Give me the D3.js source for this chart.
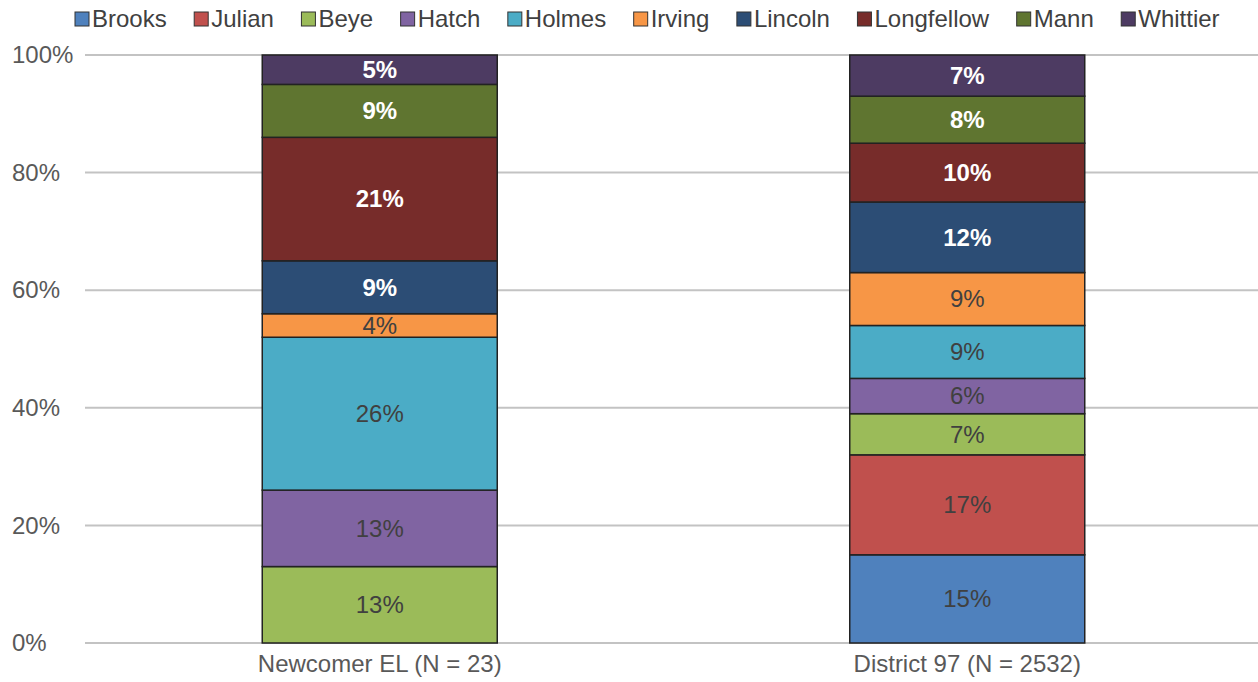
<!DOCTYPE html>
<html>
<head>
<meta charset="utf-8">
<script src="https://cdn.jsdelivr.net/npm/d3@7"></script>
<style>
  body { margin: 0; background: #fff; }
  svg text { font-family: 'Liberation Sans', Arial, sans-serif; }
</style>
</head>
<body>
<div class="chart"></div>
<script>
const width = 1258;
const height = 682;

const groups = ['Newcomer EL (N = 23)', 'District 97 (N = 2532)'];
const schools = ['Brooks', 'Julian', 'Beye', 'Hatch', 'Holmes', 'Irving', 'Lincoln', 'Longfellow', 'Mann', 'Whittier'];
const newcomer = [0, 0, 13, 13, 26, 4, 9, 21, 9, 5];
const district = [15, 17, 7, 6, 9, 9, 12, 10, 8, 7];
const yTicks = [0, 20, 40, 60, 80, 100];

const colors = ['#4F81BD', '#C0504D', '#9BBB59', '#8064A2', '#4BACC6', '#F79646', '#2C4D75', '#772C2A', '#5F7530', '#4D3B62'];
// darker fills get white bold labels
const darkSchools = ['Lincoln', 'Longfellow', 'Mann', 'Whittier'];

const margin = {top: 55, right: 0, bottom: 39, left: 85};
const fontSize = '24px';

let svg = d3.select('.chart').append('svg')
  .attr('width', width)
  .attr('height', height);

let data = groups.map((g, i) => {
  let row = {group: g};
  let vals = i === 0 ? newcomer : district;
  schools.forEach((s, j) => row[s] = vals[j]);
  return row;
});

let xScale = d3.scaleBand()
  .domain(groups)
  .range([86, 1261])
  .paddingInner(0.6)
  .paddingOuter(0.3);

let yScale = d3.scaleLinear()
  .domain([0, 100])
  .range([height - margin.bottom, margin.top]);

// gridlines
svg.append('g')
  .selectAll('line')
  .data(yTicks)
  .enter()
  .append('line')
  .attr('x1', margin.left)
  .attr('x2', width)
  .attr('y1', d => yScale(d))
  .attr('y2', d => yScale(d))
  .attr('stroke', '#c3c3c3')
  .attr('stroke-width', 2);

// y axis labels, left aligned like the original
let yAxis = svg.append('g')
  .attr('transform', `translate(${margin.left},0)`)
  .call(d3.axisLeft(yScale).tickValues(yTicks).tickFormat(d => d + '%').tickSize(0));
yAxis.select('.domain').remove();
yAxis.selectAll('text')
  .attr('x', 12 - margin.left)
  .attr('text-anchor', 'start')
  .attr('fill', '#595959')
  .style('font-size', fontSize);

// x axis labels
let xAxis = svg.append('g')
  .attr('transform', `translate(0,${height - margin.bottom})`)
  .call(d3.axisBottom(xScale).tickSize(0).tickPadding(12));
xAxis.select('.domain').remove();
xAxis.selectAll('text')
  .attr('fill', '#595959')
  .style('font-size', fontSize);

let stackedSeries = d3.stack().keys(schools)(data);

let layers = svg.append('g')
  .selectAll('g')
  .data(stackedSeries)
  .enter()
  .append('g')
  .attr('fill', (d, i) => colors[i]);

layers.selectAll('rect')
  .data(d => d.filter(p => p[1] - p[0] > 0))
  .enter()
  .append('rect')
  .attr('x', d => xScale(d.data.group))
  .attr('width', xScale.bandwidth())
  .attr('y', d => yScale(d[1]))
  .attr('height', d => yScale(d[0]) - yScale(d[1]))
  .attr('stroke', '#222')
  .attr('stroke-width', 1.5);

// value labels
layers.each(function(series) {
  let dark = darkSchools.includes(series.key);
  d3.select(this).selectAll('text')
    .data(series.filter(p => p[1] - p[0] > 0))
    .enter()
    .append('text')
    .attr('x', d => xScale(d.data.group) + xScale.bandwidth() / 2)
    .attr('y', d => yScale((d[0] + d[1]) / 2))
    .attr('dy', '0.35em')
    .attr('text-anchor', 'middle')
    .attr('fill', dark ? '#fff' : '#404040')
    .style('font-weight', dark ? 'bold' : 'normal')
    .style('font-size', fontSize)
    .text(d => (d[1] - d[0]) + '%');
});

// legend
let legend = svg.append('g');
let lx = 75;
schools.forEach((s, i) => {
  let item = legend.append('g').attr('transform', `translate(${lx},0)`);
  item.append('rect')
    .attr('x', 0)
    .attr('y', 12)
    .attr('width', 14)
    .attr('height', 14)
    .attr('fill', colors[i])
    .attr('stroke', '#333')
    .attr('stroke-width', 1);
  let t = item.append('text')
    .attr('x', 17)
    .attr('y', 19)
    .attr('dy', '0.35em')
    .attr('fill', '#404040')
    .style('font-size', fontSize)
    .text(s);
  lx += 17 + t.node().getComputedTextLength() + 27.5;
});
</script>
</body>
</html>
